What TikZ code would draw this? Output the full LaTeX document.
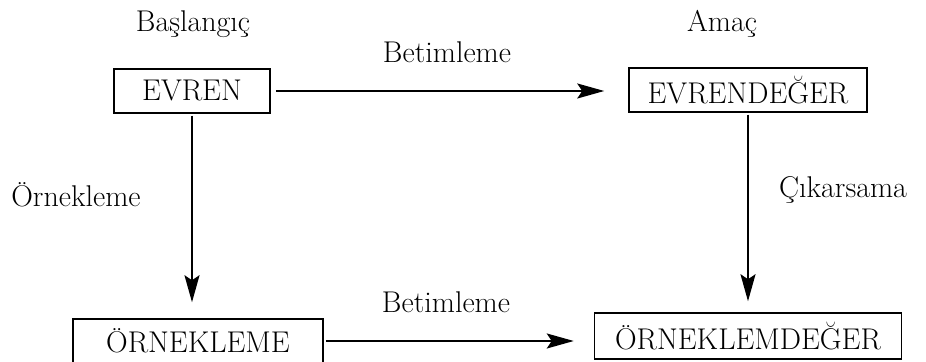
\documentclass[tikz,border=0pt]{standalone}
\usepackage{fontspec}
\usetikzlibrary{arrows.meta,calc}
\def\txtsize{\fontsize{15pt}{18pt}\selectfont}
\def\boxheight{22pt}

\tikzset{
  box/.style={draw, line width=0.75pt, inner sep=0pt, minimum height=\boxheight, font=\txtsize},
  lbl/.style={inner sep=0pt, anchor=base, font=\txtsize},
  arr/.style={-{Stealth[length=13.5pt,width=7.5pt,inset=2.5pt]}, line width=1pt}
}

\begin{document}
\begin{tikzpicture}[x=0.5pt,y=-0.5pt]
  \useasboundingbox (0,0) rectangle (926,362);

  % Baslangic
  \node[lbl] (baslangic) at (193,32) {Başlangıç};
  \node[box, minimum width=78pt] (evren) at (192,91) {EVREN};
  \node[box, minimum width=125pt] (ornekleme) at (198,341) {ÖRNEKLEME};

  % Amac
  \node[lbl] (amac) at (722,32) {Amaç};
  \node[box, minimum width=119pt] (evrendeger) at (748,90) {EVRENDEĞER};
  \node[box, minimum width=153.5pt, minimum height=23pt] (ornekdeger) at (748,336) {ÖRNEKLEMDEĞER};

  % labels of the arrows
  \node[lbl] (betim1) at (447,63) {Betimleme};
  \node[lbl] (betim2) at (446,313) {Betimleme};
  \node[lbl] (ornek) at (76,207) {Örnekleme};
  \node[lbl] (cikar) at (843,198) {Çıkarsama};

  \draw[arr, shorten <=2.5pt, shorten >=12pt] (evren.east) -- (evren.east -| evrendeger.west);
  \draw[arr, shorten <=1pt, shorten >=10pt] (ornekleme.east) -- (ornekleme.east -| ornekdeger.west);
  \draw[arr, shorten <=1pt, shorten >=8pt] (evren.south) -- (evren.south |- ornekleme.north);
  \draw[arr, shorten <=1pt, shorten >=5.5pt] (evrendeger.south) -- (ornekdeger.north);
\end{tikzpicture}
\end{document}
